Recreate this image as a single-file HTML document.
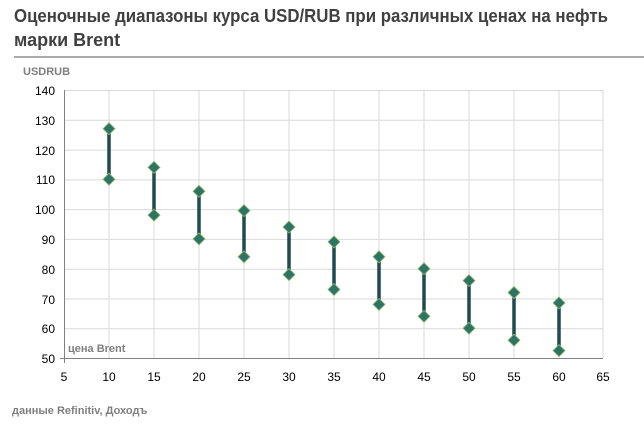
<!DOCTYPE html>
<html><head><meta charset="utf-8"><style>
body{margin:0;background:#fff;width:644px;height:426px;overflow:hidden;font-family:"Liberation Sans","DejaVu Sans",sans-serif}
</style></head><body>
<svg width="644" height="426" xmlns="http://www.w3.org/2000/svg" font-family="Liberation Sans, DejaVu Sans, sans-serif">
<text x="14" y="22" font-size="18" font-weight="bold" fill="#404040" textLength="594" lengthAdjust="spacingAndGlyphs">Оценочные диапазоны курса USD/RUB при различных ценах на нефть</text>
<text x="14" y="46" font-size="18" font-weight="bold" fill="#404040">марки Brent</text>
<line x1="14" y1="57" x2="644" y2="57" stroke="#aaa" stroke-width="2"/>
<text x="23" y="75" font-size="11" font-weight="bold" fill="#7f7f7f">USDRUB</text>
<g stroke="#d9d9d9" stroke-width="1">
<line x1="64" y1="90.5" x2="603" y2="90.5"/><line x1="64" y1="120.3" x2="603" y2="120.3"/><line x1="64" y1="150.1" x2="603" y2="150.1"/><line x1="64" y1="179.9" x2="603" y2="179.9"/><line x1="64" y1="209.6" x2="603" y2="209.6"/><line x1="64" y1="239.4" x2="603" y2="239.4"/><line x1="64" y1="269.2" x2="603" y2="269.2"/><line x1="64" y1="299" x2="603" y2="299"/><line x1="64" y1="328.8" x2="603" y2="328.8"/>
<line x1="109" y1="90" x2="109" y2="358"/><line x1="154" y1="90" x2="154" y2="358"/><line x1="199" y1="90" x2="199" y2="358"/><line x1="244" y1="90" x2="244" y2="358"/><line x1="289" y1="90" x2="289" y2="358"/><line x1="334" y1="90" x2="334" y2="358"/><line x1="379" y1="90" x2="379" y2="358"/><line x1="424" y1="90" x2="424" y2="358"/><line x1="469" y1="90" x2="469" y2="358"/><line x1="514" y1="90" x2="514" y2="358"/><line x1="559" y1="90" x2="559" y2="358"/><line x1="603" y1="90" x2="603" y2="358"/>
</g>
<g stroke="#808080" stroke-width="1">
<line x1="64.5" y1="90" x2="64.5" y2="363"/><line x1="60" y1="358.5" x2="603" y2="358.5"/>
</g>
<g font-size="12" fill="#000" text-anchor="end">
<text x="55" y="95">140</text><text x="55" y="125">130</text><text x="55" y="155">120</text><text x="55" y="184">110</text><text x="55" y="214">100</text><text x="55" y="244">90</text><text x="55" y="274">80</text><text x="55" y="304">70</text><text x="55" y="333">60</text><text x="55" y="363">50</text>
</g>
<g font-size="12" fill="#000" text-anchor="middle">
<text x="64" y="381">5</text><text x="109" y="381">10</text><text x="154" y="381">15</text><text x="199" y="381">20</text><text x="244" y="381">25</text><text x="289" y="381">30</text><text x="334" y="381">35</text><text x="379" y="381">40</text><text x="424" y="381">45</text><text x="469" y="381">50</text><text x="514" y="381">55</text><text x="559" y="381">60</text><text x="603" y="381">65</text>
</g>
<text x="68" y="352" font-size="11" font-weight="bold" fill="#7f7f7f">цена Brent</text>
<text x="12" y="414" font-size="11" font-weight="bold" fill="#7f7f7f">данные  Refinitiv, Доходъ</text>
<g stroke="#1e4b50" stroke-width="3.5">
<line x1="109" y1="128.7" x2="109" y2="179.3"/>
<line x1="154" y1="167.4" x2="154" y2="215.1"/>
<line x1="199" y1="191.3" x2="199" y2="238.9"/>
<line x1="244" y1="210.6" x2="244" y2="256.8"/>
<line x1="289" y1="227" x2="289" y2="274.6"/>
<line x1="334" y1="241.9" x2="334" y2="289.5"/>
<line x1="379" y1="256.8" x2="379" y2="304.4"/>
<line x1="424" y1="268.7" x2="424" y2="316.3"/>
<line x1="469" y1="280.6" x2="469" y2="328.2"/>
<line x1="514" y1="292.5" x2="514" y2="340.2"/>
<line x1="559" y1="302.9" x2="559" y2="350.6"/>
</g>
<defs><polygon id="m" points="0,-6 6,0 0,6 -6,0" fill="#2e7466" stroke="#8fb86a" stroke-width="0.8"/></defs>
<use href="#m" x="109" y="128.7"/><use href="#m" x="109" y="179.3"/>
<use href="#m" x="154" y="167.4"/><use href="#m" x="154" y="215.1"/>
<use href="#m" x="199" y="191.3"/><use href="#m" x="199" y="238.9"/>
<use href="#m" x="244" y="210.6"/><use href="#m" x="244" y="256.8"/>
<use href="#m" x="289" y="227"/><use href="#m" x="289" y="274.6"/>
<use href="#m" x="334" y="241.9"/><use href="#m" x="334" y="289.5"/>
<use href="#m" x="379" y="256.8"/><use href="#m" x="379" y="304.4"/>
<use href="#m" x="424" y="268.7"/><use href="#m" x="424" y="316.3"/>
<use href="#m" x="469" y="280.6"/><use href="#m" x="469" y="328.2"/>
<use href="#m" x="514" y="292.5"/><use href="#m" x="514" y="340.2"/>
<use href="#m" x="559" y="302.9"/><use href="#m" x="559" y="350.6"/>
</svg>
</body></html>
